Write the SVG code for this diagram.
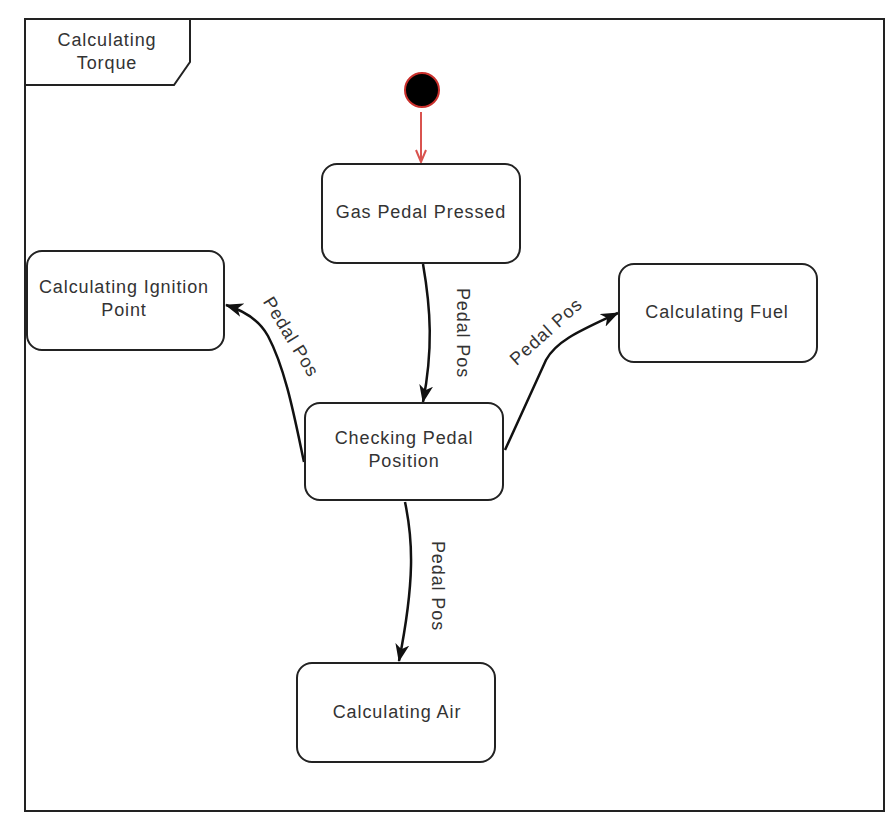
<svg xmlns="http://www.w3.org/2000/svg" width="887" height="830" viewBox="0 0 887 830">
<style>
.box{fill:#fff;stroke:#222;stroke-width:2}
.t{font-family:"Liberation Sans",Arial,sans-serif;font-size:18px;fill:#333;text-anchor:middle;letter-spacing:0.9px}
.e{fill:none;stroke:#111;stroke-width:2.5}
</style>
<defs>
<marker id="ah" viewBox="0 0 18 14" refX="17" refY="7" markerWidth="18" markerHeight="14" markerUnits="userSpaceOnUse" orient="auto">
<path d="M0,0 L18,7 L0,14 L5,7 Z" fill="#111"/>
</marker>
<marker id="ar" viewBox="0 0 14 12" refX="13" refY="6" markerWidth="14" markerHeight="12" markerUnits="userSpaceOnUse" orient="auto">
<path d="M1,1 L13,6 L1,11" fill="none" stroke="#d9534f" stroke-width="2"/>
</marker>
</defs>
<rect x="0" y="0" width="887" height="830" fill="#fff"/>
<g id="frame">
<rect x="25" y="19" width="859" height="792" fill="none" stroke="#222" stroke-width="2"/>
<path d="M25,85 L174,85 L190,62 L190,19" fill="none" stroke="#222" stroke-width="2"/>
<text class="t" x="107" y="46">Calculating</text>
<text class="t" x="107" y="69">Torque</text>
</g>
<g id="edges">
<line x1="421" y1="112" x2="421" y2="162" stroke="#d9534f" stroke-width="2" marker-end="url(#ar)"/>
<path class="e" d="M423,264 C431,310 433,350 423,402" marker-end="url(#ah)"/>
<path class="e" d="M304,462 C295,420 286,370 268,336 C258,318 242,310 226,305" marker-end="url(#ah)"/>
<path class="e" d="M505,450 L546,360 C557,340 582,330 618,313" marker-end="url(#ah)"/>
<path class="e" d="M405,502 C413,540 415,580 399,661" marker-end="url(#ah)"/>
<text class="t" transform="translate(457,333) rotate(90)">Pedal Pos</text>
<text class="t" transform="translate(286,340) rotate(58.6)">Pedal Pos</text>
<text class="t" transform="translate(550,336) rotate(-42)">Pedal Pos</text>
<text class="t" transform="translate(432,586) rotate(90)">Pedal Pos</text>
</g>
<g id="start">
<circle cx="422" cy="90" r="17" fill="#000" stroke="#c9302c" stroke-width="2"/>
</g>
<g id="gas">
<rect class="box" x="322" y="164" width="198" height="99" rx="15"/>
<text class="t" x="421" y="218">Gas Pedal Pressed</text>
</g>
<g id="ignition">
<rect class="box" x="27" y="251" width="197" height="99" rx="15"/>
<text class="t" x="124" y="293">Calculating Ignition</text>
<text class="t" x="124" y="316">Point</text>
</g>
<g id="fuel">
<rect class="box" x="619" y="264" width="198" height="98" rx="15"/>
<text class="t" x="717" y="318">Calculating Fuel</text>
</g>
<g id="checking">
<rect class="box" x="305" y="403" width="198" height="97" rx="15"/>
<text class="t" x="404" y="444">Checking Pedal</text>
<text class="t" x="404" y="467">Position</text>
</g>
<g id="air">
<rect class="box" x="297" y="663" width="198" height="99" rx="15"/>
<text class="t" x="397" y="718">Calculating Air</text>
</g>
</svg>
